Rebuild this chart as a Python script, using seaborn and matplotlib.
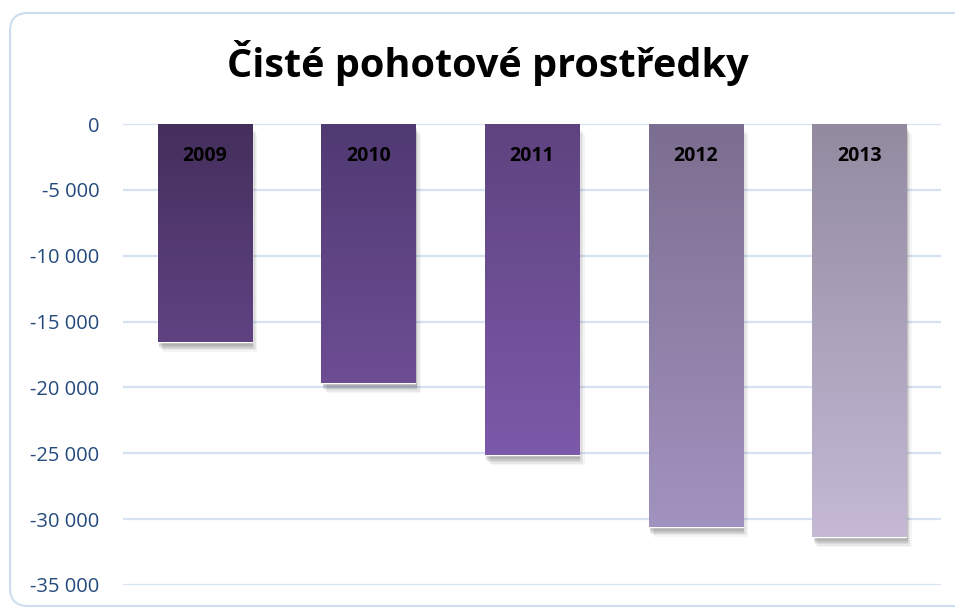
import numpy as np
import pandas as pd
import seaborn as sns
import matplotlib.pyplot as plt
from matplotlib.colors import LinearSegmentedColormap
from matplotlib.path import Path
from matplotlib.patches import PathPatch
from matplotlib.transforms import Affine2D
import matplotlib.patheffects as pe

# data
years = ["2009", "2010", "2011", "2012", "2013"]
values = [-16550, -19680, -25150, -30600, -31380]
top_colors = ["#442f5c", "#503a72", "#5e437f", "#7c6e90", "#928ba0"]
bottom_colors = ["#604282", "#6d4d94", "#7c59a9", "#a292bf", "#c5b9d6"]
y_ticks = [0, -5000, -10000, -15000, -20000, -25000, -30000, -35000]

df = pd.DataFrame({"year": years, "value": values})

sns.set_theme(style="white")
plt.rcParams["font.family"] = ["Open Sans", "DejaVu Sans"]

fig = plt.figure(figsize=(9.55, 6.08), dpi=100)
ax = fig.add_axes([123 / 955, 23 / 608, 818 / 955, 461 / 608])

sns.barplot(data=df, x="year", y="value", hue="year", palette=bottom_colors,
            legend=False, width=0.575, ax=ax, zorder=3)

ax.set_yticks(y_ticks)
ax.set_yticklabels([f"{v:,.0f}".replace(",", " ") for v in y_ticks],
                   color="#244a7c", fontsize=14.5)
ax.tick_params(axis="y", length=0, pad=17)
ax.set_xticks([])
ax.set_xlabel("")
ax.set_ylabel("")
for s in ax.spines.values():
    s.set_visible(False)
for v in y_ticks:
    ax.axhline(v, color="#d6e2f2", lw=1.6, zorder=1)

# gradient fill + soft shadow on each bar
grad = np.linspace(0, 1, 256).reshape(-1, 1)
shadow = []
for dx, dy, a in [(4, -7, 0.04), (3, -6, 0.05), (2, -5, 0.06), (1, -4, 0.08), (1, -3, 0.10)]:
    shadow.append(pe.SimplePatchShadow(offset=(dx, dy), shadow_rgbFace="#000000", alpha=a))
shadow.append(pe.Normal())

for i, patch in enumerate(ax.patches):
    x0, y0 = patch.get_x(), patch.get_y()
    w, h = patch.get_width(), patch.get_height()
    patch.set_path_effects(shadow)
    cmap = LinearSegmentedColormap.from_list(f"g{i}", [top_colors[i], bottom_colors[i]])
    ytop, ybot = max(y0, y0 + h), min(y0, y0 + h)
    im = ax.imshow(grad, cmap=cmap, aspect="auto", origin="upper",
                   extent=[x0, x0 + w, ybot, ytop], zorder=4)
    im.set_clip_path(patch)
    ax.text(i, -2430, years[i], ha="center", va="center", fontsize=14,
            fontweight="bold", color="black", zorder=5)

ax.set_xlim(-0.5, 4.5)
ax.set_ylim(-35000, 0)

fig.text(488 / 955, 1 - 63 / 608, "Čisté pohotové prostředky", ha="center",
         va="center", fontsize=28.5, fontweight="bold", color="black")

# chart frame (open on the right), in reference pixel units, y measured upward
px = Affine2D().scale(1 / 955, 1 / 608) + fig.transFigure
r = 18
verts = [(990, 595), (10 + r, 595), (10, 595), (10, 595 - r),
         (10, 2 + r), (10, 2), (10 + r, 2), (990, 2)]
codes = [Path.MOVETO, Path.LINETO, Path.CURVE3, Path.CURVE3,
         Path.LINETO, Path.CURVE3, Path.CURVE3, Path.LINETO]
frame = PathPatch(Path(verts, codes), transform=px, fc="none", ec="#cddcef", lw=1.5)
fig.patches.append(frame)

fig.savefig("out.png", dpi=100)
